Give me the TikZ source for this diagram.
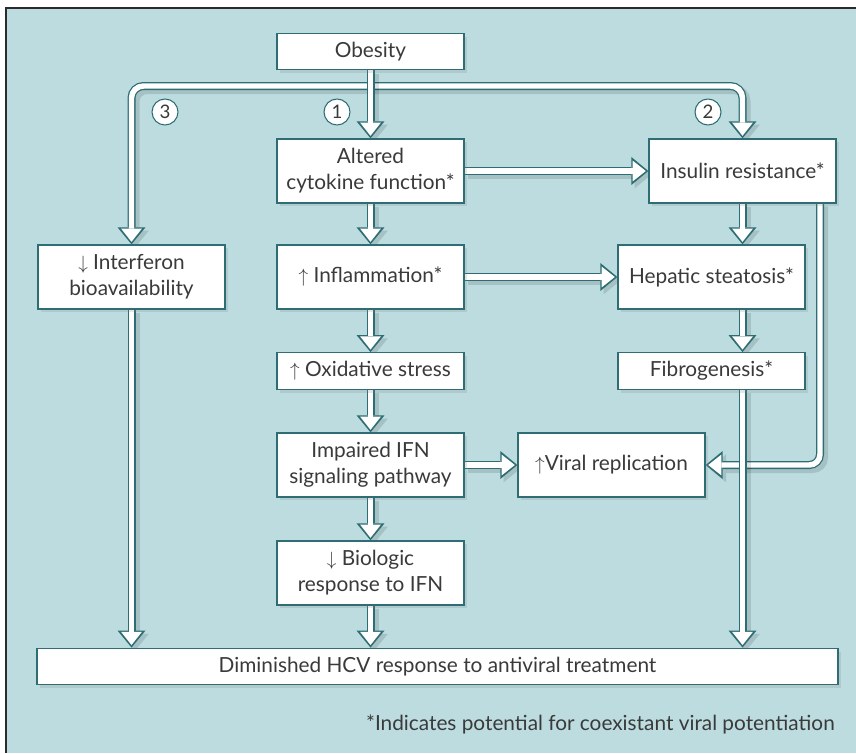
\documentclass[tikz,border=0pt]{standalone}
\usepackage{fontspec}
\setmainfont{Lato}
\usetikzlibrary{arrows.meta,shadows}
\pgfdeclarelayer{backdrop}
\pgfdeclarelayer{links}
\pgfsetlayers{backdrop,links,main}
\definecolor{panel}{HTML}{BCDCE0}
\definecolor{edgecol}{HTML}{2E6D74}
\definecolor{ink}{HTML}{3A3A3A}
\definecolor{framecol}{HTML}{2B2B2B}
\tikzset{
  stage/.style={draw=edgecol, line width=1pt, fill=white, text=ink, align=center,
    minimum width=140.25pt, minimum height=48pt, inner sep=0pt,
    font=\fontsize{15.6}{19.5}\selectfont,
    drop shadow={opacity=0.2, shadow xshift=2.5pt, shadow yshift=-2.5pt}},
  lowbox/.style={minimum height=27.4pt},
  pathnum/.style={circle, draw=edgecol, line width=0.8pt, fill=white, text=ink,
    minimum size=19.5pt, inner sep=0pt, font=\fontsize{14}{14}\selectfont},
  fatarrow/.style={draw=edgecol, line width=6pt,
    -{Triangle[length=12.75pt,width=21pt,line width=0pt]},
    preaction={draw=black, opacity=0.12, line width=7pt,
      transform canvas={shift={(2.5pt,-2.5pt)}}},
    postaction={draw=white, line width=4.1pt, shorten >=1.9pt,
      -{Triangle[length=9.8pt,width=15.5pt,line width=0pt]}}},
  fatboth/.style={draw=edgecol, line width=6pt,
    {Triangle[length=12.75pt,width=21pt,line width=0pt]}-{Triangle[length=12.75pt,width=21pt,line width=0pt]},
    preaction={draw=black, opacity=0.12, line width=7pt,
      transform canvas={shift={(2.5pt,-2.5pt)}}},
    postaction={draw=white, line width=4.1pt, shorten >=1.9pt, shorten <=1.9pt,
      {Triangle[length=9.8pt,width=15.5pt,line width=0pt]}-{Triangle[length=9.8pt,width=15.5pt,line width=0pt]}}}
}
\begin{document}
\begin{tikzpicture}[x=0.75pt,y=-0.75pt]
\useasboundingbox (0,0) rectangle (856,753);
\begin{pgfonlayer}{backdrop}
  \fill[panel] (7,9) rectangle (856,753);
  \draw[framecol, line width=1.6pt] (6,753) -- (6,8) -- (856,8);
\end{pgfonlayer}

% boxes
\node[stage, lowbox] (obesity) at (370.5,51.5) {Obesity};
\node[stage] (cytokine) at (370.5,171) {Altered\\cytokine function*};
\node[stage] (insulin) at (742.5,171) {Insulin resistance*};
\node[stage] (interferon) at (131.5,277) {$\downarrow$ Interferon\\bioavailability};
\node[stage] (inflam) at (370.5,277) {$\uparrow$ Inflammation*};
\node[stage] (steatosis) at (711.5,277) {Hepatic steatosis*};
\node[stage, lowbox] (oxid) at (370.5,371) {$\uparrow$ Oxidative stress};
\node[stage, lowbox] (fibro) at (711.5,371) {Fibrogenesis*};
\node[stage] (impaired) at (370.5,465) {Impaired IFN\\signaling pathway};
\node[stage] (viral) at (611.5,465) {$\uparrow$Viral replication};
\node[stage] (biologic) at (370.5,573) {$\downarrow$ Biologic\\response to IFN};
\node[stage, lowbox, minimum width=600.75pt] (hcv) at (437.5,666.5)
  {Diminished HCV response to antiviral treatment};
\node[text=ink, anchor=east, inner sep=0pt, font=\fontsize{15.6}{18}\selectfont] (note)
  at (835,724) {*Indicates potential for coexistant viral potentiation};

% numbered routes
\node[pathnum] (n3) at (165,112) {3};
\node[pathnum] (n1) at (337,112) {1};
\node[pathnum] (n2) at (708,112) {2};

% connectors
\begin{pgfonlayer}{links}
  \coordinate (split) at (370.5,86);
  \coordinate (irdrop) at (820,203);
  \draw[fatboth, rounded corners=9pt] (interferon.north) |- (split) -| (insulin.north);
  \draw[fatarrow] (obesity.south) -- (cytokine.north);
  \draw[fatarrow] (cytokine.east) -- (insulin.west);
  \draw[fatarrow] (cytokine.south) -- (inflam.north);
  \draw[fatarrow] (insulin.south) -- (insulin.south |- steatosis.north);
  \draw[fatarrow] (inflam.east) -- (steatosis.west);
  \draw[fatarrow] (inflam.south) -- (oxid.north);
  \draw[fatarrow] (insulin.south |- steatosis.south) -- (insulin.south |- fibro.north);
  \draw[fatarrow] (oxid.south) -- (impaired.north);
  \draw[fatarrow, rounded corners=8pt] (irdrop) |- (viral.east);
  \draw[fatarrow] (impaired.east) -- (viral.west);
  \draw[fatarrow] (impaired.south) -- (biologic.north);
  \draw[fatarrow] (biologic.south) -- (biologic.south |- hcv.north);
  \draw[fatarrow] (interferon.south) -- (interferon.south |- hcv.north);
  \draw[fatarrow] (insulin.south |- fibro.south) -- (insulin.south |- hcv.north);
\end{pgfonlayer}
\end{tikzpicture}
\end{document}
